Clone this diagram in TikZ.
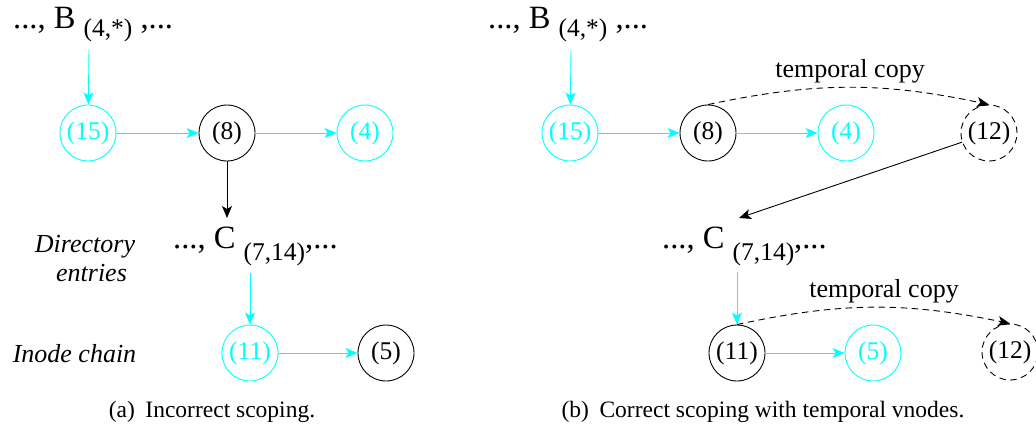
\documentclass[tikz,border=0pt]{standalone}
\usepackage{fontspec}
\setmainfont{Liberation Serif}
\usetikzlibrary{arrows.meta}
\definecolor{cy}{RGB}{0,255,255}
\newcommand\ndfont{\fontsize{25.5}{30}\selectfont}
\newcommand\bgfont{\fontsize{32.5}{36}\selectfont}
\newcommand\sbfont{\fontsize{25.5}{30}\selectfont}
\newcommand\lbfont{\fontsize{26}{29}\selectfont}
\newcommand\cpfont{\fontsize{23.5}{28}\selectfont}
\tikzset{
  vn/.style={circle, draw, minimum size=56pt, inner sep=0pt, line width=0.9pt, font=\ndfont},
  cyvn/.style={vn, draw=cy, text=cy},
  tmpvn/.style={vn, dash pattern=on 6.5pt off 4.5pt},
  arr/.style={-{Stealth[length=12pt,width=10pt,inset=3pt]}, line width=0.9pt},
  cyarr/.style={arr, color=cy},
  tmparr/.style={arr, dash pattern=on 6.5pt off 4.5pt},
  entry/.style={anchor=base west, inner sep=0pt, font=\bgfont},
  lbl/.style={anchor=base, inner sep=0pt, font=\lbfont\itshape},
  tlbl/.style={anchor=base, inner sep=0pt, font=\lbfont},
  captext/.style={anchor=base, inner sep=0pt, font=\cpfont},
}
\begin{document}
\begin{tikzpicture}[x=1pt,y=-1pt]
\useasboundingbox (0,0) rectangle (1036,426);
% ---------- (a) ----------
\node[entry] (Ba) at (13,28) {..., B \raisebox{-8pt}{\sbfont(4,*)} ,...};
\coordinate (bA) at (89,50);
\node[cyvn] (n15a) at (88,133) {(15)};
\node[vn] (n8a) at (227,133) {(8)};
\node[cyvn] (n4a) at (365,133) {(4)};
\coordinate (cA) at (227,218);
\node[entry] (Ca) at (173,248) {..., C \raisebox{-12pt}{\sbfont(7,14)},...};
\coordinate (cA2) at (250,273);
\node[cyvn] (n11a) at (250,353) {(11)};
\node[vn] (n5a) at (386,353) {(5)};
\node[lbl] (dir1) at (85,252) {Directory};
\node[lbl] (dir2) at (91.5,281) {entries};
\node[lbl] (ino) at (74.5,362) {Inode chain};
\node[captext] (capa) at (212,417) {(a)\hspace{0.45em}Incorrect scoping.};
\draw[cyarr] (bA) -- (n15a);
\draw[cyarr] (n15a) -- (n8a);
\draw[cyarr] (n8a) -- (n4a);
\draw[arr] (n8a) -- (cA);
\draw[cyarr] (cA2) -- (n11a);
\draw[cyarr] (n11a) -- (n5a);
% ---------- (b) ----------
\node[entry] (Bb) at (488,28) {..., B \raisebox{-8pt}{\sbfont(4,*)} ,...};
\coordinate (bB) at (571,50);
\node[cyvn] (n15b) at (570,133) {(15)};
\node[vn] (n8b) at (708,133) {(8)};
\node[cyvn] (n4b) at (846,133) {(4)};
\node[tmpvn] (n12b) at (989,133) {(12)};
\node[tlbl] (tc1) at (850,77) {temporal copy};
\coordinate (cB) at (739,218);
\node[entry] (Cb) at (662,248) {..., C \raisebox{-12pt}{\sbfont(7,14)},...};
\coordinate (cB2) at (737,272);
\node[vn] (n11b) at (737,353) {(11)};
\node[cyvn] (n5b) at (873,353) {(5)};
\node[tmpvn] (n12c) at (1010,352) {(12)};
\node[tlbl] (tc2) at (884,297) {temporal copy};
\node[captext] (capb) at (763,417) {(b)\hspace{0.45em}Correct scoping with temporal vnodes.};
\draw[cyarr] (bB) -- (n15b);
\draw[cyarr] (n15b) -- (n8b);
\draw[cyarr] (n8b) -- (n4b);
\draw[tmparr] (n8b.north) to[bend left=12] (n12b.north);
\draw[arr] (n12b) -- (cB);
\draw[cyarr] (cB2) -- (n11b);
\draw[cyarr] (n11b) -- (n5b);
\draw[tmparr] (n11b.north) to[bend left=12] (n12c.north);
\end{tikzpicture}
\end{document}
